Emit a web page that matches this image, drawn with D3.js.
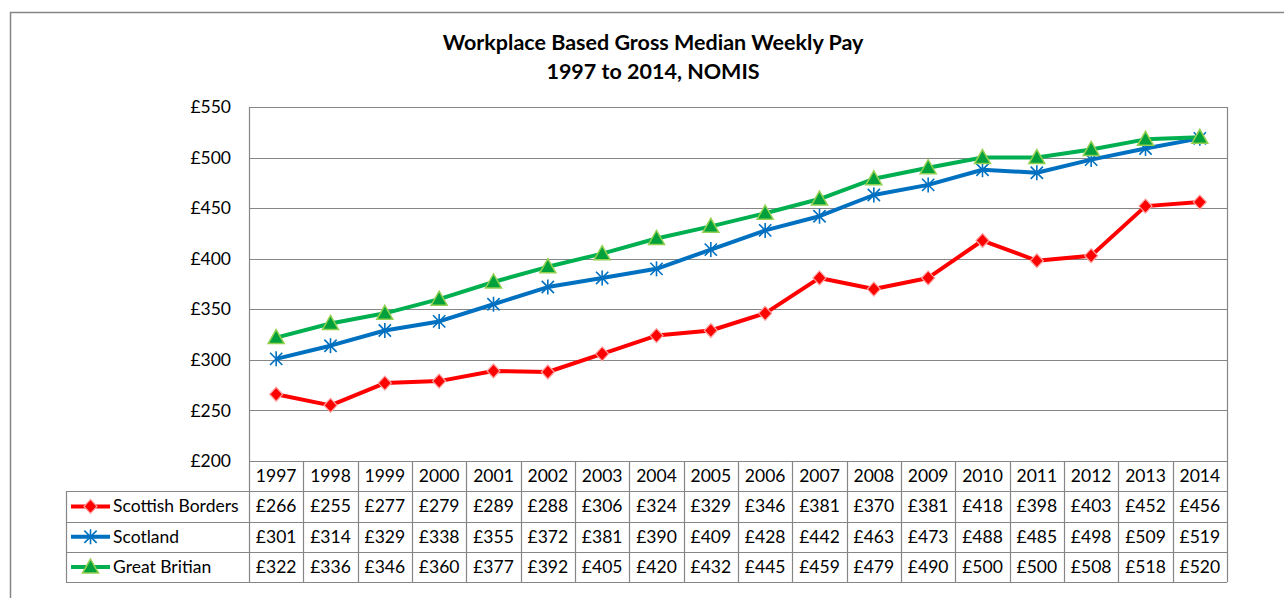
<!DOCTYPE html>
<html>
<head>
<meta charset="utf-8">
<script src="https://cdn.jsdelivr.net/npm/d3@7"></script>
<style>
  body { margin: 0; background: #fff; }
  svg text { font-family: Lato, "Open Sans", sans-serif; fill: #000; }
</style>
</head>
<body>
<div id="chart"></div>
<script>
// years along the x axis
var years = [1997, 1998, 1999, 2000, 2001, 2002, 2003, 2004, 2005, 2006, 2007, 2008, 2009, 2010, 2011, 2012, 2013, 2014];
var bordersPay = [266, 255, 277, 279, 289, 288, 306, 324, 329, 346, 381, 370, 381, 418, 398, 403, 452, 456];
var scotlandPay = [301, 314, 329, 338, 355, 372, 381, 390, 409, 428, 442, 463, 473, 488, 485, 498, 509, 519];
var gbPay = [322, 336, 346, 360, 377, 392, 405, 420, 432, 445, 459, 479, 490, 500, 500, 508, 518, 520];
var seriesNames = ["Scottish Borders", "Scotland", "Great Britian"];
var yTicks = [200, 250, 300, 350, 400, 450, 500, 550];

var width = 1284, height = 598,
    plot = { left: 249, right: 1227, top: 107, bottom: 461 },
    rowH = 30.3,
    legendLeft = 66,
    gridCol = "#868686",
    fs = 17.5;

var series = [
    { name: seriesNames[0], values: bordersPay, color: "#ff0000", marker: "diamond" },
    { name: seriesNames[1], values: scotlandPay, color: "#0070c0", marker: "star" },
    { name: seriesNames[2], values: gbPay, color: "#00b050", marker: "triangle" }
];

var svg = d3.select("#chart").append("svg")
    .attr("width", width)
    .attr("height", height);

// outer chart border
svg.append("rect")
    .attr("x", 10.5).attr("y", 12.5)
    .attr("width", 1300).attr("height", 700)
    .attr("fill", "none").attr("stroke", "#868686").attr("stroke-width", 1.5);

// title
svg.append("text").attr("x", 653).attr("y", 50)
    .attr("text-anchor", "middle").attr("font-size", 21.5).attr("font-weight", "bold")
    .text("Workplace Based Gross Median Weekly Pay");
svg.append("text").attr("x", 653).attr("y", 79)
    .attr("text-anchor", "middle").attr("font-size", 21.5).attr("font-weight", "bold")
    .text("1997 to 2014, NOMIS");

var x = d3.scaleBand().domain(years).range([plot.left, plot.right]);
var y = d3.scaleLinear().domain([200, 550]).range([plot.bottom, plot.top]);

// gridlines
svg.append("g").selectAll("line")
    .data(yTicks)
    .enter().append("line")
    .attr("x1", plot.left).attr("x2", plot.right)
    .attr("y1", function (d) { return Math.round(y(d)) + 0.5; })
    .attr("y2", function (d) { return Math.round(y(d)) + 0.5; })
    .attr("stroke", gridCol).attr("stroke-width", 1.2);

// y axis labels
var yAxis = d3.axisLeft(y).tickValues(yTicks).tickSize(0).tickPadding(18)
    .tickFormat(function (d) { return "£" + d; });
var yg = svg.append("g").attr("transform", "translate(" + plot.left + ",0)").call(yAxis);
yg.select(".domain").remove();
yg.selectAll("text").attr("font-size", fs).style("font-family", "Lato, 'Open Sans', sans-serif").attr("fill", "#000");

svg.append("line")
    .attr("x1", plot.left + 0.5).attr("x2", plot.left + 0.5)
    .attr("y1", plot.top).attr("y2", plot.bottom)
    .attr("stroke", gridCol).attr("stroke-width", 1.2);
svg.append("line")
    .attr("x1", plot.right + 0.5).attr("x2", plot.right + 0.5)
    .attr("y1", plot.top).attr("y2", plot.bottom)
    .attr("stroke", gridCol).attr("stroke-width", 1.2);

// marker drawing helper
function drawMarker(g, type, cx, cy, color) {
    if (type === "diamond") {
        g.append("path")
            .attr("d", "M0,-7L6.5,0L0,7L-6.5,0Z")
            .attr("transform", "translate(" + cx + "," + cy + ")")
            .attr("fill", color).attr("stroke", "#ffa0a0").attr("stroke-width", 1.2);
    } else if (type === "star") {
        g.append("path")
            .attr("d", d3.symbol().type(d3.symbolTimes).size(100)())
            .attr("transform", "translate(" + cx + "," + cy + ")")
            .attr("fill", "none").attr("stroke", color).attr("stroke-width", 1.6);
        g.append("line")
            .attr("x1", cx).attr("x2", cx).attr("y1", cy - 7.5).attr("y2", cy + 7.5)
            .attr("stroke", color).attr("stroke-width", 1.6);
    } else {
        g.append("path")
            .attr("d", "M0,-8L8,6L-8,6Z")
            .attr("transform", "translate(" + cx + "," + cy + ")")
            .attr("fill", "#00a03c").attr("stroke", "#92d050").attr("stroke-width", 1.5);
    }
}

var line = d3.line()
    .x(function (d, i) { return x(years[i]) + x.bandwidth() / 2; })
    .y(function (d) { return y(d); });

series.forEach(function (s) {
    var g = svg.append("g");
    g.append("path")
        .attr("d", line(s.values))
        .attr("fill", "none").attr("stroke", s.color).attr("stroke-width", 4)
        .attr("stroke-linejoin", "round");
    s.values.forEach(function (v, i) {
        drawMarker(g, s.marker, x(years[i]) + x.bandwidth() / 2, y(v), s.color);
    });
});

// data table
var table = svg.append("g");
var tableBottom = plot.bottom + rowH * 4;

// horizontal rules
[0, 1, 2, 3, 4].forEach(function (r) {
    var yy = Math.round(plot.bottom + rowH * r) + 0.5;
    table.append("line")
        .attr("x1", r === 0 ? plot.left : legendLeft).attr("x2", plot.right)
        .attr("y1", yy).attr("y2", yy)
        .attr("stroke", gridCol).attr("stroke-width", 1.2);
});
// vertical rules
table.append("line")
    .attr("x1", legendLeft + 0.5).attr("x2", legendLeft + 0.5)
    .attr("y1", plot.bottom + rowH).attr("y2", tableBottom)
    .attr("stroke", gridCol).attr("stroke-width", 1.2);
years.concat(["end"]).forEach(function (yr, i) {
    var xx = Math.round(plot.left + x.bandwidth() * i) + 0.5;
    table.append("line")
        .attr("x1", xx).attr("x2", xx)
        .attr("y1", plot.bottom).attr("y2", tableBottom)
        .attr("stroke", gridCol).attr("stroke-width", 1.2);
});

// year header
table.selectAll(".yr").data(years).enter().append("text")
    .attr("x", function (d) { return x(d) + x.bandwidth() / 2; })
    .attr("y", plot.bottom + rowH / 2 + 6)
    .attr("text-anchor", "middle").attr("font-size", fs)
    .text(function (d) { return d; });

series.forEach(function (s, r) {
    var rowMid = plot.bottom + rowH * (r + 1) + rowH / 2;
    table.append("g").selectAll("text").data(s.values).enter().append("text")
        .attr("x", function (d, i) { return x(years[i]) + x.bandwidth() / 2; })
        .attr("y", rowMid + 6)
        .attr("text-anchor", "middle").attr("font-size", fs)
        .text(function (d) { return "£" + d; });
    // legend key
    table.append("line")
        .attr("x1", 71).attr("x2", 110).attr("y1", rowMid).attr("y2", rowMid)
        .attr("stroke", s.color).attr("stroke-width", 4);
    drawMarker(table, s.marker, 90.5, rowMid, s.color);
    table.append("text")
        .attr("x", 113).attr("y", rowMid + 6)
        .attr("font-size", fs)
        .text(s.name);
});
</script>
</body>
</html>
